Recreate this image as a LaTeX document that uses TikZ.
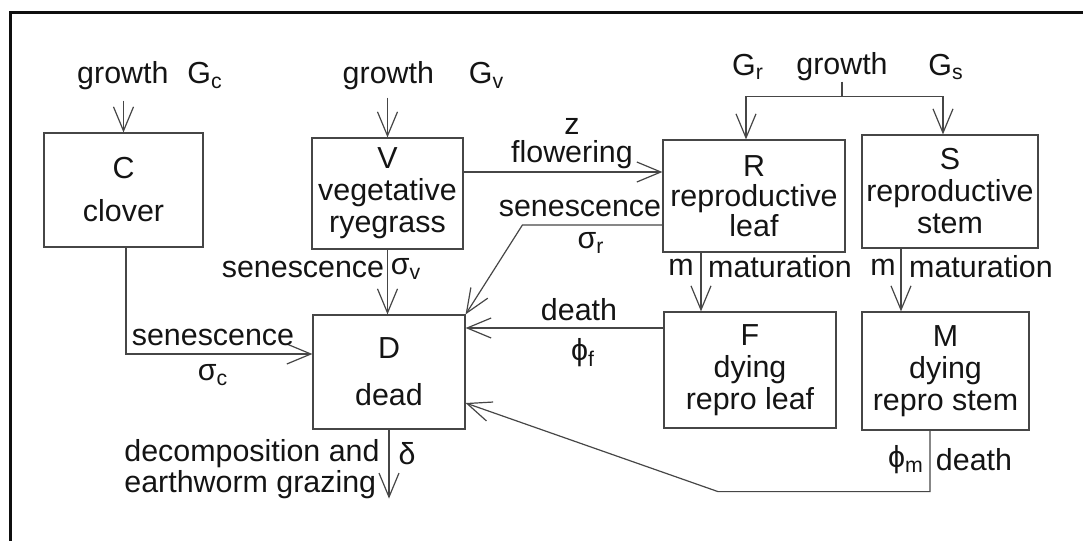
\documentclass[tikz,border=0pt]{standalone}
\usepackage{fontspec}
\setmainfont{Liberation Sans}
\usepackage{tikz}
\usetikzlibrary{calc,arrows.meta,positioning}
\definecolor{lineGray}{RGB}{70,70,70}
\definecolor{frameBlack}{RGB}{15,15,15}
\definecolor{textBlack}{RGB}{20,20,20}

\begin{document}
\begin{tikzpicture}[x=0.5pt,y=-0.5pt,
    font=\fontsize{15.2}{16}\selectfont, text=textBlack,
    pool/.style={draw=lineGray, line width=0.6pt, inner sep=0pt, align=center},
    lbl/.style={inner sep=0pt, align=center},
    flow/.style={draw=lineGray, line width=0.6pt, -{Straight Barb[length=12pt,width=10pt]}},
    link/.style={draw=lineGray, line width=0.6pt}]
    \useasboundingbox (0,0) rectangle (1083,541);
    \draw[frameBlack, line width=1.5pt] (1083,12) -- (10,12) -- (10,541);
    % compartments
    \node[pool, minimum width=79.5pt, minimum height=57pt] (C) at (123.5,190) {C\\[5.5pt]clover};
    \node[pool, minimum width=75.5pt, minimum height=55.5pt] (V) at (387.5,193.5) {V\\vegetative\\ryegrass};
    \node[pool, minimum width=91pt, minimum height=56pt] (R) at (754,196) {R\\[-1pt]reproductive\\[-1pt]leaf};
    \node[pool, minimum width=88pt, minimum height=56.5pt] (S) at (950,191.5) {S\\reproductive\\stem};
    \node[pool, minimum width=76pt, minimum height=57pt] (D) at (389,372) {D\\[7.5pt]dead};
    \node[pool, minimum width=86pt, minimum height=58pt] (F) at (750,370) {F\\dying\\repro leaf};
    \node[pool, minimum width=83.5pt, minimum height=59pt] (M) at (945.5,371) {M\\dying\\repro stem};
    % growth inputs
    \node[lbl] (gC) at (150,76) {growth\hspace{9.5pt}G\textsubscript{c}};
    \node[lbl] (gV) at (423.5,76) {growth\hspace{17.5pt}G\textsubscript{v}};
    \node[lbl] (gR) at (748,67) {G\textsubscript{r}};
    \node[lbl] (gW) at (842,67) {growth};
    \node[lbl] (gS) at (946,67) {G\textsubscript{s}};
    \draw[flow] ($(C.north |- gC.south)+(0,10)$) -- (C.north);
    \draw[flow] ($(V.north |- gV.south)+(0,7)$) -- (V.north);
    \draw[link] (gW.south) -- ++(0,15) coordinate (split);
    \draw[flow] (split) -| ($(R.north)+(-8,0)$);
    \draw[flow] (split) -| ($(S.north)+(-7,0)$);
    % flowering
    \coordinate (flR) at ($(R.west)+(0,-24)$);
    \draw[flow] (V.east |- flR) -- (flR);
    \node[lbl] (flw) at (572,155) {flowering};
    \node[lbl, above=3pt of flw] (zz) {z};
    % senescence
    \draw[flow] (V.south) -- (V.south |- D.north);
    \node[lbl] (snV) at (303,269) {senescence};
    \node[lbl] (sgV) at (406,269) {σ\textsubscript{v}};
    \draw[flow] ($(R.west)+(0,29)$) -- ++(-140,0) -- (D.north east);
    \node[lbl] (snR) at (580,208) {senescence};
    \node[lbl] (sgR) at (591,243) {σ\textsubscript{r}};
    \draw[flow] ($(C.south)+(2.5,0)$) |- ($(D.west)+(0,-18)$);
    \node[lbl] (snC) at (213,337) {senescence};
    \node[lbl] (sgC) at (213,375) {σ\textsubscript{c}};
    % maturation
    \coordinate (mR) at ($(R.south)+(-53,0)$);
    \draw[flow] (mR) -- (mR |- F.north);
    \node[lbl] (mtR) at (681,267) {m};
    \node[lbl] (matR) at (780,267) {maturation};
    \coordinate (mS) at ($(S.south)+(-49,0)$);
    \draw[flow] (mS) -- (mS |- M.north);
    \node[lbl] (mtS) at (883,267) {m};
    \node[lbl] (matS) at (981,267) {maturation};
    % death
    \coordinate (fD) at ($(F.west)+(0,-42)$);
    \draw[flow] (fD) -- (fD -| D.east);
    \node[lbl] (dtF) at (579,310) {death};
    \node[lbl] (phF) at (583,353) {ϕ\textsubscript{f}};
    \draw[flow] ($(M.south)+(-15.5,0)$) -- ++(0,61) -- ++(-212,0) -- ($(D.east)+(0,31)$);
    \node[lbl] (phM) at (906,460) {ϕ\textsubscript{m}};
    \node[lbl] (dtM) at (974,460) {death};
    % decomposition
    \draw[flow] (D.south) -- ++(0,69) coordinate (sink);
    \node[lbl] (dlt) at (407,454) {δ};
    \node[lbl, align=left, anchor=west] (dec) at (124,469) {decomposition and\\[-0.5pt]earthworm grazing};
\end{tikzpicture}
\end{document}
